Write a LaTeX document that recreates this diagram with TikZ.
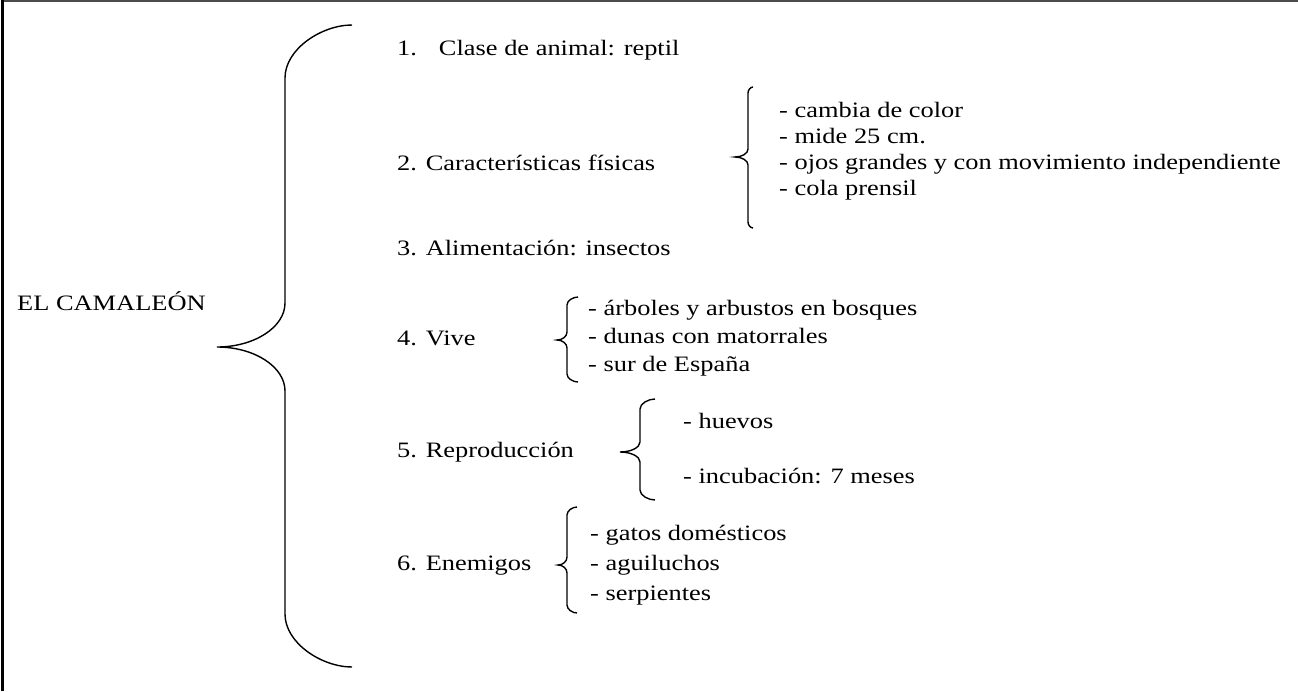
\documentclass[tikz,border=0pt]{standalone}
\usepackage{fontspec}
\setmainfont{Liberation Serif}[FakeStretch=1.2]
\usepackage{tikz}
\usepackage{xcolor}

\newcommand{\llave}[8]{%
	\draw[line width=1.4pt] (#1,#4) .. controls ({#2+0.55*(#1-#2)},#4) and (#2,{#4+0.45*#7}) .. (#2,#4+#7) -- (#2,#5-#8)
		.. controls (#2,{#5-0.45*#8}) and ({#3+0.55*(#2-#3)},#5) .. (#3,#5)
		.. controls ({#3+0.55*(#2-#3)},#5) and (#2,{#5+0.45*#8}) .. (#2,#5+#8)
		-- (#2,#6-#7) .. controls (#2,{#6-0.45*#7}) and ({#2+0.55*(#1-#2)},#6) .. (#1,#6);}

\begin{document}
\begin{tikzpicture}[x=1pt,y=-1pt,font=\fontsize{22}{26}\selectfont,
		texto/.style={anchor=west,inner sep=0pt,text height=15pt,text depth=5pt}]
		\useasboundingbox (0,0) rectangle (1298,691);
		\draw[line width=1.5pt,black!70] (1298,1) -- (2,1);
		\draw[line width=3pt] (2,0) -- (2,691);

		\node[texto] (camaleon) at (17,305) {EL CAMALEÓN};
		\llave{352}{285}{217}{25}{347}{667}{53}{44}

		\node[texto] (clase) at (397,50) {1.\hspace{22pt}Clase de animal: reptil};
		\node[texto] (fisicas) at (397,165) {2. Características físicas};
		\node[texto] (alimento) at (397,250) {3. Alimentación: insectos};
		\node[texto] (vive) at (397,340) {4. Vive};
		\node[texto] (reproduccion) at (397,452) {5. Reproducción};
		\node[texto] (enemigos) at (397,565) {6. Enemigos};

		\llave{753}{748}{735}{87}{157}{228}{6}{8}
		\node[texto] (color) at (779,112) {- cambia de color};
		\node[texto] (mide) at (779,138) {- mide 25 cm.};
		\node[texto] (ojos) at (779,164) {- ojos grandes y con movimiento independiente};
		\node[texto] (cola) at (779,190) {- cola prensil};

		\llave{578}{567}{557}{297}{340}{382}{8}{8}
		\node[texto] (arboles) at (588,310) {- árboles y arbustos en bosques};
		\node[texto] (dunas) at (588,338) {- dunas con matorrales};
		\node[texto] (sur) at (588,366) {- sur de España};

		\llave{655}{640}{620}{399}{452}{500}{10}{10}
		\node[texto] (huevos) at (683,423) {- huevos};
		\node[texto] (incubacion) at (683,478) {- incubación: 7 meses};

		\llave{577}{567}{558}{507}{565}{613}{8}{8}
		\node[texto] (gatos) at (590,535) {- gatos domésticos};
		\node[texto] (aguiluchos) at (590,565) {- aguiluchos};
		\node[texto] (serpientes) at (590,595) {- serpientes};
\end{tikzpicture}
\end{document}
